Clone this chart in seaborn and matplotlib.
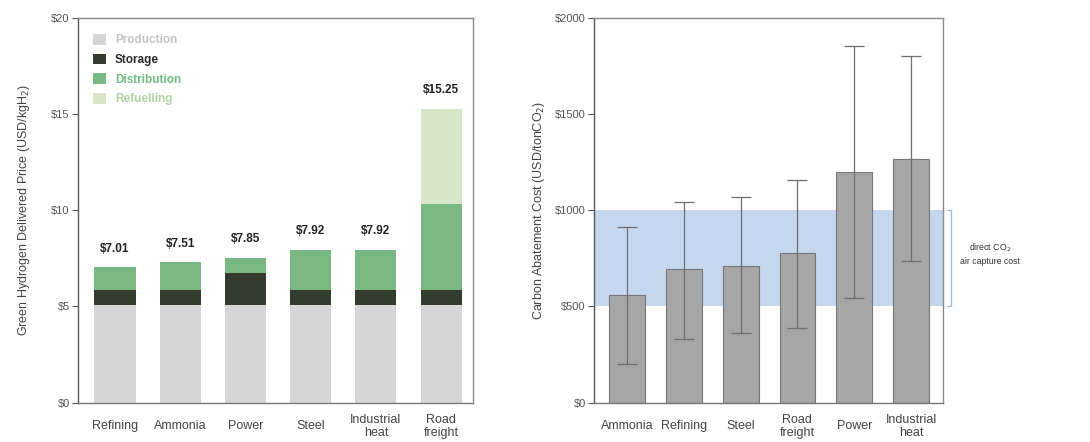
import matplotlib
matplotlib.use('Agg')
import matplotlib.pyplot as plt
import seaborn as sns
import pandas as pd
from matplotlib.patches import Patch
from matplotlib.transforms import blended_transform_factory

# Left chart: green hydrogen delivered price, stacked by cost component
sectors_h2 = ['Refining', 'Ammonia', 'Power', 'Steel', 'Industrial\nheat', 'Road\nfreight']
production = [5.05, 5.05, 5.05, 5.05, 5.05, 5.05]
storage = [0.80, 0.80, 1.67, 0.80, 0.80, 0.80]
distribution = [1.20, 1.44, 0.81, 2.10, 2.10, 4.47]
refuelling = [0, 0, 0, 0, 0, 4.94]
price_labels = ['$7.01', '$7.51', '$7.85', '$7.92', '$7.92', '$15.25']

# Right chart: carbon abatement cost with ranges
sectors_ab = ['Ammonia', 'Refining', 'Steel', 'Road\nfreight', 'Power', 'Industrial\nheat']
abatement = [561, 693, 712, 776, 1198, 1268]
abatement_low = [201, 331, 364, 390, 542, 736]
abatement_high = [914, 1044, 1070, 1157, 1855, 1800]
dac_range = (500, 1000)

sns.set_style('white')
plt.rcParams['font.family'] = ['Liberation Sans', 'DejaVu Sans']

colors = {'Production': '#d6d6d6', 'Storage': '#343d2d',
          'Distribution': '#7ab883', 'Refuelling': '#d5e7c6'}
text_colors = {'Production': '#c4c4c4', 'Storage': '#2b2b2b',
               'Distribution': '#72bf80', 'Refuelling': '#b0d4a4'}

df = pd.DataFrame({'sector': sectors_h2, 'Production': production, 'Storage': storage,
                   'Distribution': distribution, 'Refuelling': refuelling})
parts = ['Production', 'Storage', 'Distribution', 'Refuelling']
cum = df[parts].cumsum(axis=1)

fig = plt.figure(figsize=(10.9, 4.42), dpi=100)
ax1 = fig.add_axes([0.0716, 0.0889, 0.3624, 0.871])
ax2 = fig.add_axes([0.545, 0.0889, 0.320, 0.871])

# stacked bars: draw cumulative totals from the top down
for part in reversed(parts):
    sns.barplot(x=df['sector'], y=cum[part], order=sectors_h2, color=colors[part],
                saturation=1, width=0.63, linewidth=0, edgecolor='none', ax=ax1)
for i, lab in enumerate(price_labels):
    ax1.annotate(lab, (i, cum['Refuelling'][i]), xytext=(0, 9), textcoords='offset points',
                 ha='center', va='bottom', fontsize=8.5, fontweight='bold', color='#222222')

ax1.set_xlim(-0.567, 5.49)
ax1.set_ylim(0, 20)
ax1.set_yticks([0, 5, 10, 15, 20])
ax1.set_yticklabels(['$0', '$5', '$10', '$15', '$20'])
ax1.set_xlabel('')
ax1.set_ylabel('Green Hydrogen Delivered Price (USD/kgH$_2$)', fontsize=9, color='#444444', labelpad=14)

handles = [Patch(facecolor=colors[p], edgecolor='none') for p in parts]
leg = ax1.legend(handles, parts, loc='upper left', bbox_to_anchor=(0.01, 0.985), frameon=False,
                 handlelength=1.1, handleheight=1.0, handletextpad=0.8, labelspacing=0.62,
                 prop={'size': 8.5, 'weight': 'bold'})
for t, p in zip(leg.get_texts(), parts):
    t.set_color(text_colors[p])

# right chart
sns.barplot(x=sectors_ab, y=abatement, order=sectors_ab, color='#a6a6a6', saturation=1,
            width=0.63, edgecolor='#777777', linewidth=0.8, ax=ax2, zorder=2)
ax2.axhspan(dac_range[0], dac_range[1], color='#c5d7ee', zorder=0, lw=0)
yerr = [[a - lo for a, lo in zip(abatement, abatement_low)],
        [hi - a for a, hi in zip(abatement, abatement_high)]]
ax2.errorbar(range(len(sectors_ab)), abatement, yerr=yerr, fmt='none', ecolor='#6e6e6e',
             elinewidth=0.9, capsize=7.5, capthick=0.9, zorder=3)
ax2.set_xlim(-0.58, 5.56)
ax2.set_ylim(0, 2000)
ax2.set_yticks([0, 500, 1000, 1500, 2000])
ax2.set_yticklabels(['$0', '$500', '$1000', '$1500', '$2000'])
ax2.set_xlabel('')
ax2.set_ylabel('Carbon Abatement Cost (USD/tonCO$_2$)', fontsize=9, color='#444444', labelpad=6)

# bracket for direct air capture range
tr = blended_transform_factory(ax2.transAxes, ax2.transData)
ax2.plot([1.012, 1.022, 1.022, 1.012], [dac_range[0], dac_range[0], dac_range[1], dac_range[1]],
         color='#9dbbe0', lw=0.9, transform=tr, clip_on=False)
ax2.text(1.135, 775, 'direct CO$_2$\nair capture cost', transform=tr, ha='center', va='center',
         fontsize=6.3, color='#333333', linespacing=1.4)

for ax in (ax1, ax2):
    for s in ax.spines.values():
        s.set_visible(True)
        s.set_color('#8a8a8a')
        s.set_linewidth(1.0)
    ax.spines['left'].set_color('#555555')
    ax.spines['bottom'].set_color('#777777')
    ax.tick_params(axis='y', which='both', left=True, length=4, width=0.8, color='#555555',
                   labelsize=8, labelcolor='#555555', pad=2)
    ax.tick_params(axis='x', length=0, labelsize=9, labelcolor='#444444', pad=17)
    for lab in ax.get_xticklabels():
        lab.set_verticalalignment('center')
        lab.set_linespacing(1.05)

fig.savefig('out.png', dpi=100)
